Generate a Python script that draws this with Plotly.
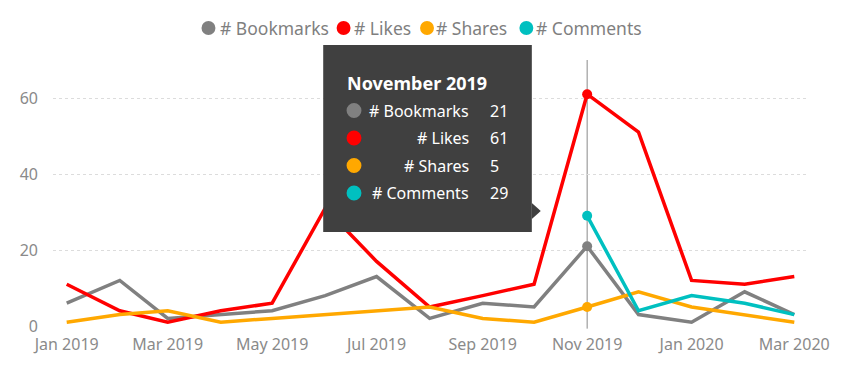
import plotly.graph_objects as go

# ---- data ----
months = ["2019-01-01", "2019-02-01", "2019-03-01", "2019-04-01", "2019-05-01",
          "2019-06-01", "2019-07-01", "2019-08-01", "2019-09-01", "2019-10-01",
          "2019-11-01", "2019-12-01", "2020-01-01", "2020-02-01", "2020-03-01"]
bookmarks = [6, 12, 2, 3, 4, 8, 13, 2, 6, 5, 21, 3, 1, 9, 3]
likes = [11, 4, 1, 4, 6, 31, 17, 5, 8, 11, 61, 51, 12, 11, 13]
shares = [1, 3, 4, 1, 2, 3, 4, 5, 2, 1, 5, 9, 5, 3, 1]
comments = [None, None, None, None, None, None, None, None, None, None, 29, 4, 8, 6, 3]
series_names = ["# Bookmarks", "# Likes", "# Shares", "# Comments"]
y_ticks = [0, 20, 40, 60]
x_ticks = ["2019-01-01", "2019-03-01", "2019-05-01", "2019-07-01",
           "2019-09-01", "2019-11-01", "2020-01-01", "2020-03-01"]
x_tick_labels = ["Jan 2019", "Mar 2019", "May 2019", "Jul 2019",
                 "Sep 2019", "Nov 2019", "Jan 2020", "Mar 2020"]
hover_index = 10
hover_title = "November 2019"

colors = ["#808080", "#FF0000", "#FFA800", "#00C0C0"]
FONT = "Segoe UI, Noto Sans, sans-serif"

OFF = 8  # default page body margin
W, H = 850, 365
L, R, T, B = 40, 50, 52, 47
PW, PH = W - L - R, H - T - B


def px(x):
    return (x - OFF - L) / PW


def py(y):
    return (H - B - (y - OFF)) / PH


fig = go.Figure()
all_series = [bookmarks, likes, shares, comments]
for name, vals, c in zip(series_names, all_series, colors):
    fig.add_trace(go.Scatter(x=months, y=vals, mode="lines", name=name,
                             line=dict(color=c, width=3.5), showlegend=False,
                             hoverinfo="skip"))

# highlighted points at hovered month
for name, vals, c in zip(series_names, all_series, colors):
    fig.add_trace(go.Scatter(x=[months[hover_index]], y=[vals[hover_index]],
                             mode="markers", marker=dict(color=c, size=10),
                             showlegend=False, hoverinfo="skip"))

shapes = []
# hover vertical line
shapes.append(dict(type="line", xref="x", yref="paper", x0=months[hover_index],
                   x1=months[hover_index], y0=-0.01, y1=1.0,
                   line=dict(color="#8a8a8a", width=1), layer="below"))

# tooltip box
bx0, bx1, by0, by1 = 320, 530, 45, 232
shapes.append(dict(type="rect", xref="paper", yref="paper",
                   x0=px(bx0), x1=px(bx1), y0=py(by1), y1=py(by0),
                   fillcolor="#404040", line=dict(width=0), layer="above"))
# arrow
ax, ay = 530, 211
shapes.append(dict(type="path", xref="paper", yref="paper",
                   path=f"M {px(ax)} {py(ay-8)} L {px(ax+9)} {py(ay)} L {px(ax)} {py(ay+8)} Z",
                   fillcolor="#404040", line=dict(width=0), layer="above"))

annotations = []
annotations.append(dict(xref="paper", yref="paper", x=px(342), y=py(83),
                        xanchor="left", yanchor="middle", showarrow=False,
                        text=f"<b>{hover_title}</b>",
                        font=dict(family=FONT, size=18, color="#ffffff")))
row_y = [110.5, 138, 165.5, 193]
for name, vals, c, ry in zip(series_names, all_series, colors, row_y):
    r = 7.5
    cx = 351
    shapes.append(dict(type="circle", xref="paper", yref="paper",
                       x0=px(cx - r), x1=px(cx + r), y0=py(ry + r), y1=py(ry - r),
                       fillcolor=c, line=dict(width=0), layer="above"))
    annotations.append(dict(xref="paper", yref="paper", x=px(469), y=py(ry),
                            xanchor="right", yanchor="middle", showarrow=False,
                            text=name,
                            font=dict(family=FONT, size=16, color="#ffffff")))
    annotations.append(dict(xref="paper", yref="paper", x=px(486), y=py(ry),
                            xanchor="left", yanchor="middle", showarrow=False,
                            text=str(vals[hover_index]),
                            font=dict(family=FONT, size=16, color="#ffffff")))

# legend: circle + text per item
legend_circle_x = [204.5, 340.5, 424.5, 524.5]
legend_text_x = [214, 349, 432, 532]
legend_y = 28
for name, c, cxl, tx in zip(series_names, colors, legend_circle_x, legend_text_x):
    r = 7
    shapes.append(dict(type="circle", xref="paper", yref="paper",
                       x0=px(cxl - r), x1=px(cxl + r),
                       y0=py(legend_y + r), y1=py(legend_y - r),
                       fillcolor=c, line=dict(width=0)))
    annotations.append(dict(xref="paper", yref="paper", x=px(tx), y=py(legend_y),
                            xanchor="left", yanchor="middle", showarrow=False,
                            text=name,
                            font=dict(family=FONT, size=17.5, color="#7f7f7f")))

fig.update_layout(
    width=W, height=H, autosize=False,
    margin=dict(l=L, r=R, t=T, b=B),
    paper_bgcolor="white", plot_bgcolor="white",
    showlegend=False,
    shapes=shapes, annotations=annotations,
    xaxis=dict(type="date", range=["2018-12-24", "2020-03-09"],
               tickvals=x_ticks, ticktext=x_tick_labels,
               showgrid=False, zeroline=False, showline=False, ticks="",
               tickfont=dict(family=FONT, size=16, color="#8a8a8a"),
               ticklabelstandoff=7),
    yaxis=dict(range=[0, 70], tickvals=y_ticks,
               showgrid=True, gridcolor="#dcdcdc", griddash="dot", gridwidth=1,
               zeroline=False, showline=False, ticks="",
               tickfont=dict(family=FONT, size=16, color="#8a8a8a"),
               ticklabelstandoff=14),
)

fig.write_html("out.html")
